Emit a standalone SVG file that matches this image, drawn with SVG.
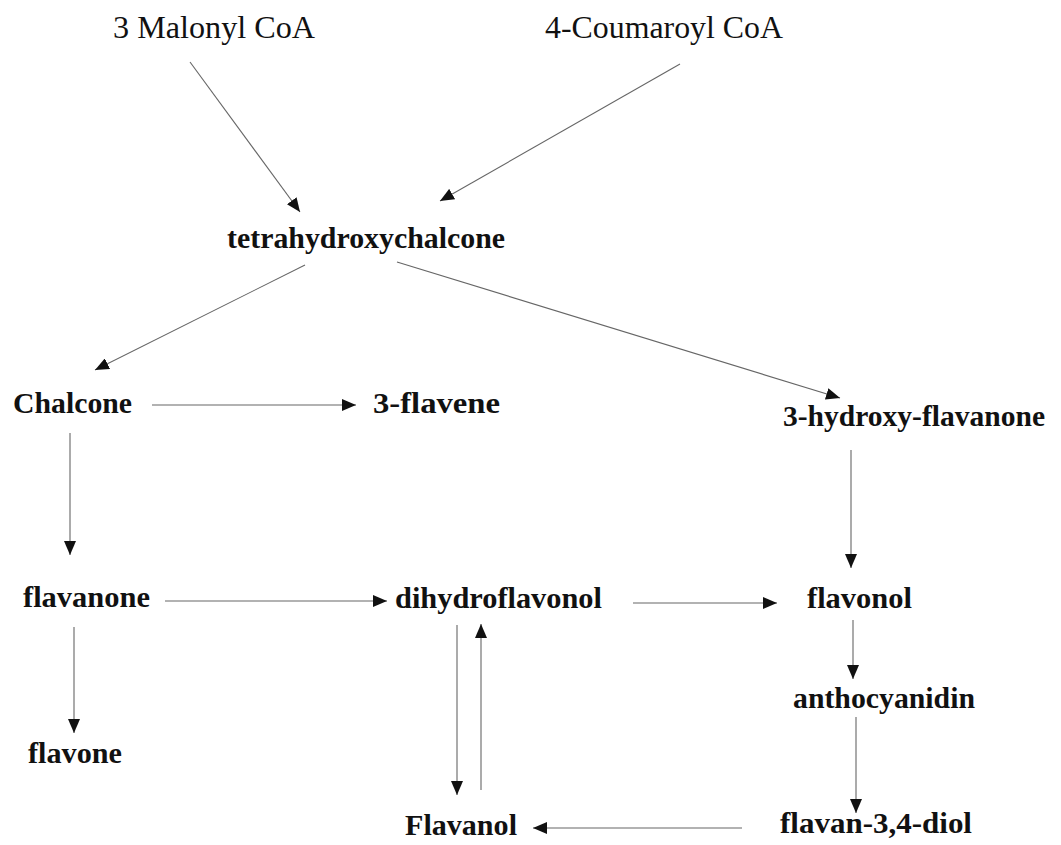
<svg xmlns="http://www.w3.org/2000/svg" width="1061" height="845" viewBox="0 0 1061 845">
<defs>
<marker id="ah" markerUnits="userSpaceOnUse" markerWidth="16" markerHeight="12" refX="14" refY="6" orient="auto">
<path d="M0,0 L14,6 L0,12 Z" fill="#111"/>
</marker>
<style>
.t{font-family:"Liberation Serif","Times New Roman",serif;font-size:30px;fill:#111;font-weight:bold}
.r{font-weight:normal;font-size:31px}
.c{stroke:#666;stroke-width:1.1;fill:none;marker-end:url(#ah)}
</style>
</defs>
<rect width="1061" height="845" fill="#fff"/>
<g id="connectors">
<line class="c" x1="190" y1="62" x2="300" y2="212"/>
<line class="c" x1="680" y1="64" x2="440" y2="201"/>
<line class="c" x1="305" y1="265" x2="95" y2="370"/>
<line class="c" x1="397" y1="262" x2="840" y2="398"/>
<line class="c" x1="152" y1="405" x2="356" y2="405"/>
<line class="c" x1="70" y1="433" x2="70" y2="555"/>
<line class="c" x1="851" y1="450" x2="851" y2="568"/>
<line class="c" x1="165" y1="601" x2="387" y2="601"/>
<line class="c" x1="633" y1="603" x2="777" y2="603"/>
<line class="c" x1="74" y1="627" x2="74" y2="733"/>
<line class="c" x1="457" y1="625" x2="457" y2="795"/>
<line class="c" x1="481" y1="790" x2="481" y2="624"/>
<line class="c" x1="853" y1="620" x2="853" y2="679"/>
<line class="c" x1="856" y1="717" x2="856" y2="813"/>
<line class="c" x1="742" y1="828" x2="533" y2="828"/>
</g>
<g id="malonyl"><text class="t r" x="113" y="38" textLength="202" lengthAdjust="spacingAndGlyphs">3 Malonyl CoA</text></g>
<g id="coumaroyl"><text class="t r" x="545" y="38" textLength="238" lengthAdjust="spacingAndGlyphs">4-Coumaroyl CoA</text></g>
<g id="tetrahydroxychalcone"><text class="t" x="227" y="248" textLength="278" lengthAdjust="spacingAndGlyphs">tetrahydroxychalcone</text></g>
<g id="chalcone"><text class="t" x="13" y="413" textLength="119" lengthAdjust="spacingAndGlyphs">Chalcone</text></g>
<g id="flavene"><text class="t" x="373" y="413" textLength="127" lengthAdjust="spacingAndGlyphs">3-flavene</text></g>
<g id="hydroxyflavanone"><text class="t" x="783" y="426" textLength="262" lengthAdjust="spacingAndGlyphs">3-hydroxy-flavanone</text></g>
<g id="flavanone"><text class="t" x="23" y="607" textLength="127" lengthAdjust="spacingAndGlyphs">flavanone</text></g>
<g id="dihydroflavonol"><text class="t" x="395" y="608" textLength="207" lengthAdjust="spacingAndGlyphs">dihydroflavonol</text></g>
<g id="flavonol"><text class="t" x="807" y="608" textLength="105" lengthAdjust="spacingAndGlyphs">flavonol</text></g>
<g id="anthocyanidin"><text class="t" x="793" y="708" textLength="182" lengthAdjust="spacingAndGlyphs">anthocyanidin</text></g>
<g id="flavone"><text class="t" x="28" y="763" textLength="94" lengthAdjust="spacingAndGlyphs">flavone</text></g>
<g id="flavanol"><text class="t" x="405" y="835" textLength="112" lengthAdjust="spacingAndGlyphs">Flavanol</text></g>
<g id="flavandiol"><text class="t" x="780" y="833" textLength="192" lengthAdjust="spacingAndGlyphs">flavan-3,4-diol</text></g>
</svg>
